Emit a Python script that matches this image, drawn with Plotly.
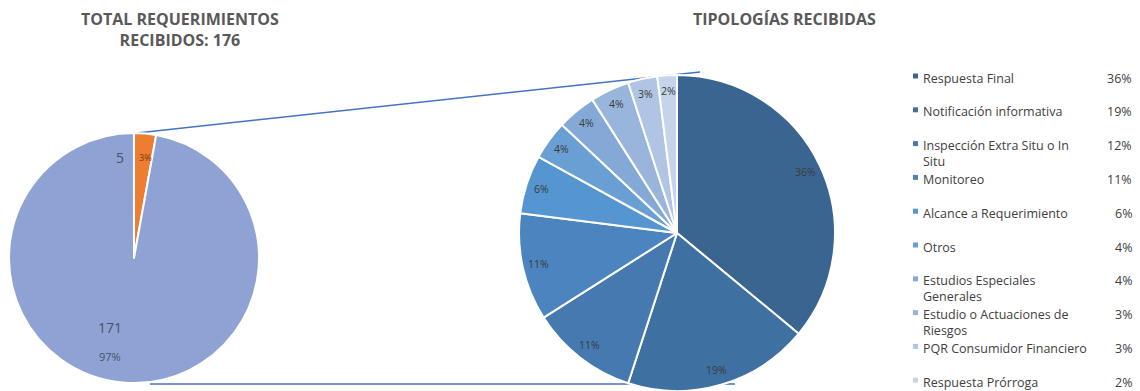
import math
import plotly.graph_objects as go

W, H = 1140, 391

# ---------------- data ----------------
total_cats = ["Tipologías detalladas", "Otros requerimientos"]
total_vals = [5, 171]
total_pct_text = ["3%", "97%"]

type_cats = [
    "Respuesta Final",
    "Notificación informativa",
    "Inspección Extra Situ o In Situ",
    "Monitoreo",
    "Alcance a Requerimiento",
    "Otros",
    "Estudios Especiales Generales",
    "Estudio o Actuaciones de Riesgos",
    "PQR Consumidor Financiero",
    "Respuesta Prórroga",
]
type_vals = [36, 19, 11, 11, 6, 4, 4, 4, 3, 2]
legend_labels = [
    "Respuesta Final",
    "Notificación informativa",
    "Inspección Extra Situ o In<br>Situ",
    "Monitoreo",
    "Alcance a Requerimiento",
    "Otros",
    "Estudios Especiales<br>Generales",
    "Estudio o Actuaciones de<br>Riesgos",
    "PQR Consumidor Financiero",
    "Respuesta Prórroga",
]
legend_pct = ["36%", "19%", "12%", "11%", "6%", "4%", "4%", "3%", "3%", "2%"]

# ---------------- styles ----------------
FONT = "Open Sans"
TXT = "#404040"
left_colors = ["#ED7D31", "#8FA2D4"]
right_colors = ["#3A6591", "#3F70A2", "#4679B0", "#4C84BF", "#5596D0",
                "#6A9FD3", "#85A9D6", "#9AB5DC", "#B0C4E3", "#C6D4EA"]

# pie geometry in pixels
L_CX, L_CY, L_R = 134, 258, 125
R_CX, R_CY, R_R = 677, 233, 158


def px2paper(x, y):
    return x / W, 1 - y / H


fig = go.Figure()

fig.add_trace(go.Pie(
    labels=total_cats, values=total_vals, sort=False, direction="clockwise",
    rotation=0, marker=dict(colors=left_colors, line=dict(color="white", width=2)),
    textinfo="none", showlegend=False,
    domain=dict(x=[(L_CX - L_R) / W, (L_CX + L_R) / W],
                y=[1 - (L_CY + L_R) / H, 1 - (L_CY - L_R) / H]),
))

fig.add_trace(go.Pie(
    labels=type_cats, values=type_vals, sort=False, direction="clockwise",
    rotation=0, marker=dict(colors=right_colors, line=dict(color="white", width=2)),
    textinfo="none", showlegend=False,
    domain=dict(x=[(R_CX - R_R) / W, (R_CX + R_R) / W],
                y=[max(0, 1 - (R_CY + R_R) / H), 1 - (R_CY - R_R) / H]),
))

annotations = []


def add_text(xp, yp, text, size, color, xanchor="center", yanchor="middle", align="center"):
    x, y = px2paper(xp, yp)
    annotations.append(dict(x=x, y=y, xref="paper", yref="paper", text=text,
                            showarrow=False, xanchor=xanchor, yanchor=yanchor, align=align,
                            font=dict(family=FONT, size=size, color=color)))


# titles
add_text(180, 30, "<b>TOTAL REQUERIMIENTOS<br>RECIBIDOS: 176</b>", 16, "#595959")
add_text(784, 19, "<b>TIPOLOGÍAS RECIBIDAS</b>", 16, "#595959")

# left pie labels (value + percent)
left_label_pos = [((120, 157), (145, 157)), ((110, 327), (110, 356))]
for i, ((vx, vy), (px, py)) in enumerate(left_label_pos):
    add_text(vx, vy, str(total_vals[i]), 14, "#44546A")
    add_text(px, py, total_pct_text[i], 9 if i == 0 else 11,
             "#7A3A10" if i == 0 else "#44546A")

# right pie labels computed from values
tot = sum(type_vals)
cum = 0
for v in type_vals:
    mid = (cum + v / 2) / tot * 2 * math.pi
    cum += v
    lx = R_CX + 0.9 * R_R * math.sin(mid)
    ly = R_CY - 0.9 * R_R * math.cos(mid)
    add_text(lx, ly, f"{round(v / tot * 100)}%", 10.5, "#3A3A3A")

# legend
shapes = []
for i, (lab, pct) in enumerate(zip(legend_labels, legend_pct)):
    yc = 76 + i * 33.8
    s = 5
    x0, y0 = px2paper(913, yc - s / 2)
    x1, y1 = px2paper(913 + s, yc + s / 2)
    shapes.append(dict(type="rect", xref="paper", yref="paper", x0=x0, x1=x1, y0=y1, y1=y0,
                       fillcolor=right_colors[i], line=dict(width=0)))
    add_text(921, yc - 8.5, lab, 12.5, TXT, xanchor="left", yanchor="top", align="left")
    add_text(1134, yc + 2, pct, 12.5, TXT, xanchor="right")

# connector lines
for (xa, ya), (xb, yb) in [((137, 133), (700, 72)), ((150, 384), (735, 384))]:
    x0, y0 = px2paper(xa, ya)
    x1, y1 = px2paper(xb, yb)
    shapes.append(dict(type="line", xref="paper", yref="paper", x0=x0, y0=y0, x1=x1, y1=y1,
                       line=dict(color="#4472C4", width=1.5), layer="below"))

fig.update_layout(
    width=W, height=H, margin=dict(l=0, r=0, t=0, b=0),
    paper_bgcolor="white", plot_bgcolor="white",
    annotations=annotations, shapes=shapes, showlegend=False,
)

fig.write_html("out.html")
